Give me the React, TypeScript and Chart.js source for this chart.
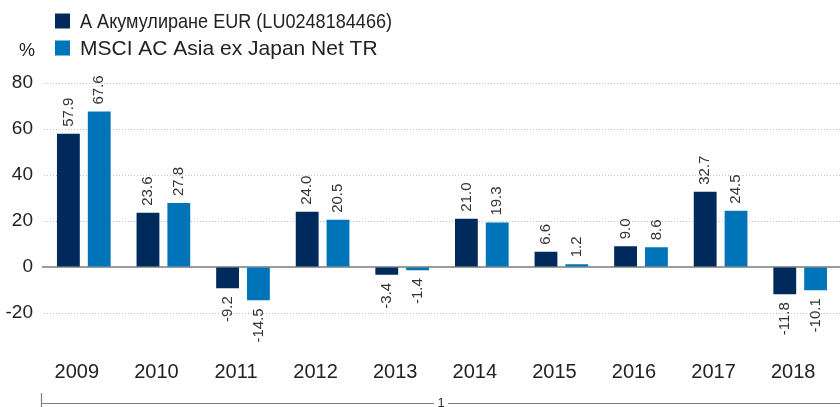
import React, { useEffect, useRef } from 'react';
import { Chart, registerables } from 'chart.js';

Chart.register(...registerables);

const years = ['2009', '2010', '2011', '2012', '2013', '2014', '2015', '2016', '2017', '2018'];
const fundValues = [57.9, 23.6, -9.2, 24.0, -3.4, 21.0, 6.6, 9.0, 32.7, -11.8];
const indexValues = [67.6, 27.8, -14.5, 20.5, -1.4, 19.3, 1.2, 8.6, 24.5, -10.1];
const seriesNames = ['А Акумулиране EUR (LU0248184466)', 'MSCI AC Asia ex Japan Net TR'];
const seriesColors = ['#002a5c', '#0074b8'];
const yTicks = [-20, 0, 20, 40, 60, 80];
const axisUnit = '%';
const footnoteMark = '1';

const FONT = '"Liberation Sans", Arial, sans-serif';

const zeroLinePlugin = {
  id: 'zeroLine',
  beforeDatasetsDraw(chart: any) {
    const { ctx, chartArea, scales } = chart;
    const y = scales.y.getPixelForValue(0);
    ctx.save();
    ctx.strokeStyle = '#7a7a7a';
    ctx.lineWidth = 1.5;
    ctx.beginPath();
    ctx.moveTo(chartArea.left - 2, y);
    ctx.lineTo(chartArea.right, y);
    ctx.stroke();
    ctx.restore();
  },
};

const barLabelPlugin = {
  id: 'barLabels',
  afterDatasetsDraw(chart: any) {
    const { ctx } = chart;
    ctx.save();
    ctx.font = `15px ${FONT}`;
    ctx.fillStyle = '#333333';
    ctx.textBaseline = 'middle';
    chart.data.datasets.forEach((ds: any, di: number) => {
      const meta = chart.getDatasetMeta(di);
      meta.data.forEach((bar: any, i: number) => {
        const v = ds.data[i] as number;
        const txt = v.toFixed(1);
        ctx.save();
        if (v >= 0) {
          ctx.translate(bar.x, Math.min(bar.y, bar.base) - 7);
          ctx.rotate(-Math.PI / 2);
          ctx.textAlign = 'left';
        } else {
          ctx.translate(bar.x, Math.max(bar.y, bar.base) + 8);
          ctx.rotate(-Math.PI / 2);
          ctx.textAlign = 'right';
        }
        ctx.fillText(txt, 0, 0);
        ctx.restore();
      });
    });
    ctx.restore();
  },
};

const decorPlugin = {
  id: 'decor',
  afterDraw(chart: any) {
    const { ctx, width } = chart;
    ctx.save();
    // legend
    const rows = [21, 48];
    const maxW = [312, 320];
    chart.data.datasets.forEach((ds: any, i: number) => {
      const cy = rows[i];
      ctx.fillStyle = ds.backgroundColor;
      ctx.fillRect(55, cy - 7.5, 15, 15);
      ctx.fillStyle = '#222222';
      ctx.font = `21px ${FONT}`;
      ctx.textAlign = 'left';
      ctx.textBaseline = 'middle';
      ctx.fillText(ds.label, 80, cy + 1, maxW[i]);
    });
    // unit label
    ctx.fillStyle = '#222222';
    ctx.font = `18px ${FONT}`;
    ctx.textAlign = 'center';
    ctx.textBaseline = 'middle';
    ctx.fillText(axisUnit, 27, 51);
    // footnote bracket
    ctx.strokeStyle = '#808080';
    ctx.lineWidth = 1.2;
    const ly = 403.5;
    const mid = 441;
    ctx.beginPath();
    ctx.moveTo(41.5, 393);
    ctx.lineTo(41.5, 407);
    ctx.moveTo(41.5, ly);
    ctx.lineTo(mid - 7, ly);
    ctx.moveTo(mid + 7, ly);
    ctx.lineTo(width, ly);
    ctx.stroke();
    ctx.fillStyle = '#333333';
    ctx.font = `13px ${FONT}`;
    ctx.textAlign = 'center';
    ctx.fillText(footnoteMark, mid, ly);
    ctx.restore();
  },
};

export default function App() {
  const ref = useRef<HTMLCanvasElement | null>(null);

  useEffect(() => {
    document.body.style.margin = '0';
    if (!ref.current) return;
    const chart = new Chart(ref.current, {
      type: 'bar',
      data: {
        labels: years,
        datasets: [
          {
            label: seriesNames[0],
            data: fundValues,
            backgroundColor: seriesColors[0],
            barPercentage: 0.74,
            categoryPercentage: 0.775,
          },
          {
            label: seriesNames[1],
            data: indexValues,
            backgroundColor: seriesColors[1],
            barPercentage: 0.74,
            categoryPercentage: 0.775,
          },
        ],
      },
      options: {
        animation: false,
        responsive: true,
        maintainAspectRatio: false,
        layout: { padding: { top: 83, right: -5, bottom: 0, left: 0 } },
        plugins: {
          legend: { display: false },
          tooltip: { enabled: false },
        },
        scales: {
          x: {
            grid: { display: false, drawTicks: false },
            border: { display: false },
            ticks: {
              color: '#222222',
              font: { family: FONT, size: 20 },
              padding: 13,
              labelOffset: -7,
              maxRotation: 0,
              autoSkip: false,
            },
            afterFit(s: any) {
              s.height = 59.5;
            },
          },
          y: {
            min: -35,
            max: 80,
            afterBuildTicks(s: any) {
              s.ticks = yTicks.map((v) => ({ value: v }));
            },
            grid: {
              drawTicks: false,
              color: (c: any) => (c.tick && c.tick.value === 0 ? 'rgba(0,0,0,0)' : '#c4c4c4'),
              lineWidth: 1,
            },
            border: { display: false, dash: [1, 2] },
            ticks: {
              color: '#222222',
              font: { family: FONT, size: 19 },
              padding: 11,
            },
            afterFit(s: any) {
              s.width = 44;
            },
          },
        },
      },
      plugins: [zeroLinePlugin, barLabelPlugin, decorPlugin],
    } as any);
    return () => chart.destroy();
  }, []);

  return (
    <div style={{ width: 840, height: 407, position: 'relative' }}>
      <canvas ref={ref} />
    </div>
  );
}
